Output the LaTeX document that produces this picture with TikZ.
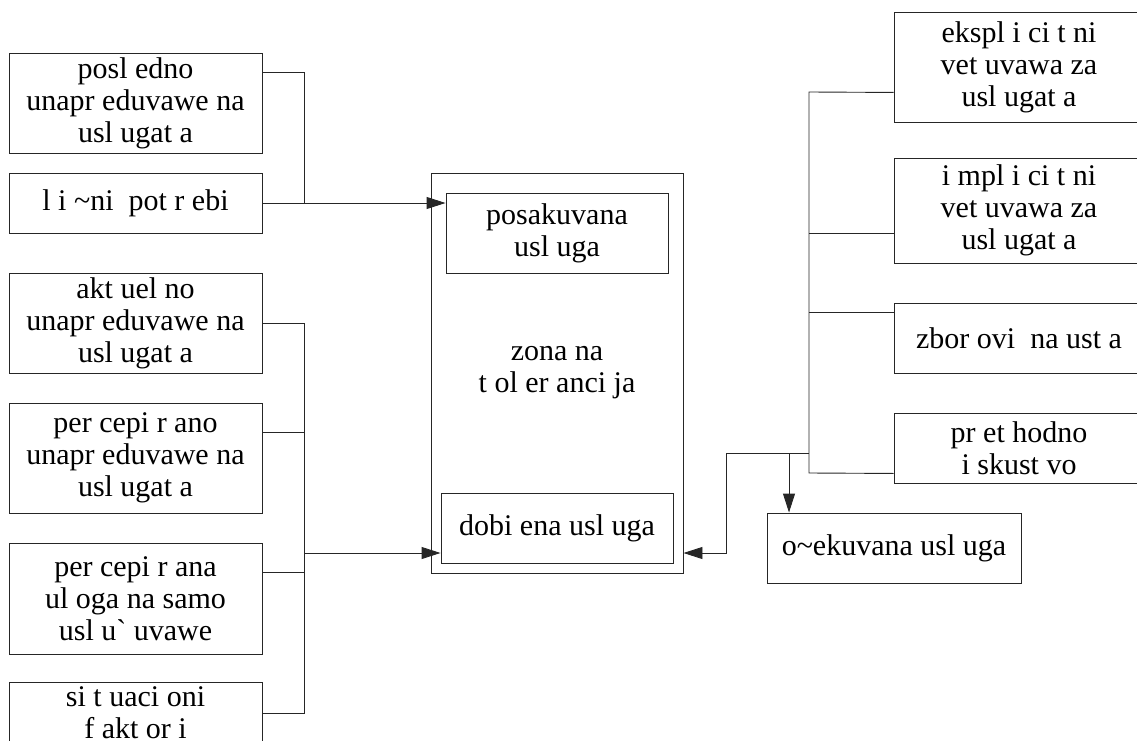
\documentclass[tikz,border=0pt]{standalone}
\usepackage{fontspec}
\setmainfont{Liberation Serif}
\usetikzlibrary{arrows.meta,calc}

\begin{document}
\begin{tikzpicture}[x=1pt,y=-1pt,
  box/.style={draw=black!85,line width=0.9pt,rectangle,inner sep=0pt,align=center,
    font=\fontsize{30}{32}\selectfont,text=black},
  wire/.style={draw=black!85,line width=0.9pt},
  arr/.style={wire,-{Triangle[length=19pt,width=12pt]}}]
\useasboundingbox (0,0) rectangle (1137,741);
\clip (0,0) rectangle (1137,741);

% left column
\node[box,minimum width=253pt,minimum height=100pt] (b1) at (135.5,103)
  {posl edno\\unapr eduvawe na\\usl ugat a};
\node[box,minimum width=253pt,minimum height=60pt] (b2) at (135.5,203)
  {l i \textasciitilde ni\ \ pot r ebi};
\node[box,minimum width=253pt,minimum height=100pt] (b3) at (135.5,323)
  {akt uel no\\unapr eduvawe na\\usl ugat a};
\node[box,minimum width=253pt,minimum height=110pt] (b4) at (135.5,458)
  {per cepi r ano\\unapr eduvawe na\\usl ugat a};
\node[box,minimum width=253pt,minimum height=111pt] (b5) at (135.5,598.5)
  {per cepi r ana\\ul oga na samo\\usl u\textasciigrave\ uvawe};
\node[box,minimum width=253pt,minimum height=62pt] (b6) at (135.5,713)
  {si t uaci oni\\f akt or i};

% central zone
\node[box,minimum width=252pt,minimum height=400pt] (zona) at (557,373)
  {zona na\\t ol er anci ja};
\node[box,minimum width=222pt,minimum height=80pt] (pos) at (557,233)
  {posakuvana\\usl uga};
\node[box,minimum width=232pt,minimum height=70pt] (dob) at (557,528)
  {dobi ena usl uga};

% right column
\node[box,minimum width=250pt,minimum height=110pt] (e1) at (1019,67)
  {ekspl i ci t ni\\vet uvawa za\\usl ugat a};
\node[box,minimum width=250pt,minimum height=105pt] (e2) at (1019,210.5)
  {i mpl i ci t ni\\vet uvawa za\\usl ugat a};
\node[box,minimum width=250pt,minimum height=70pt] (e3) at (1019,338)
  {zbor ovi\ \ na ust a};
\node[box,minimum width=250pt,minimum height=70pt] (e4) at (1019,448)
  {pr et hodno\\i skust vo};
\node[box,minimum width=254pt,minimum height=70pt] (oc) at (894,548)
  {o\textasciitilde ekuvana usl uga};

% junction points
\coordinate (jA) at (304,203);
\coordinate (lt) at (304,323);
\coordinate (lb) at (304,713);
\coordinate (lm) at (304,553);
\coordinate (rt) at (809,92);
\coordinate (rb) at (809,473);
\coordinate (rm) at (809,453);
\coordinate (rk) at (726,453);
\coordinate (rd) at (789,453);

% left connectors
\draw[wire] ($(b1.north east)+(0,20)$) -| (jA);
\draw[arr] (b2.east) -- (b2.east -| pos.west);
\draw[wire] (b3.east) -- (lt) -- (lb) -- (lb -| b6.east);
\draw[wire] ($(b4.north east)+(0,30)$) -- +(42,0);
\draw[wire] ($(b5.north east)+(0,30)$) -- +(42,0);
\draw[arr] (lm) -- (lm -| dob.west);

% right connectors
\draw[wire] ($(e1.south west)+(0,-30)$) -- (rt) -- (rb) -- ($(e4.south west)+(0,-10)$);
\draw[wire] ($(e2.south west)+(0,-30)$) -- +(-85,0);
\draw[wire] ($(e3.north west)+(0,10)$) -- +(-85,0);
\draw[arr] (rm) -- (rk) |- (lm -| zona.east);
\draw[arr] (rd) -- (rd |- oc.north);
\end{tikzpicture}
\end{document}
